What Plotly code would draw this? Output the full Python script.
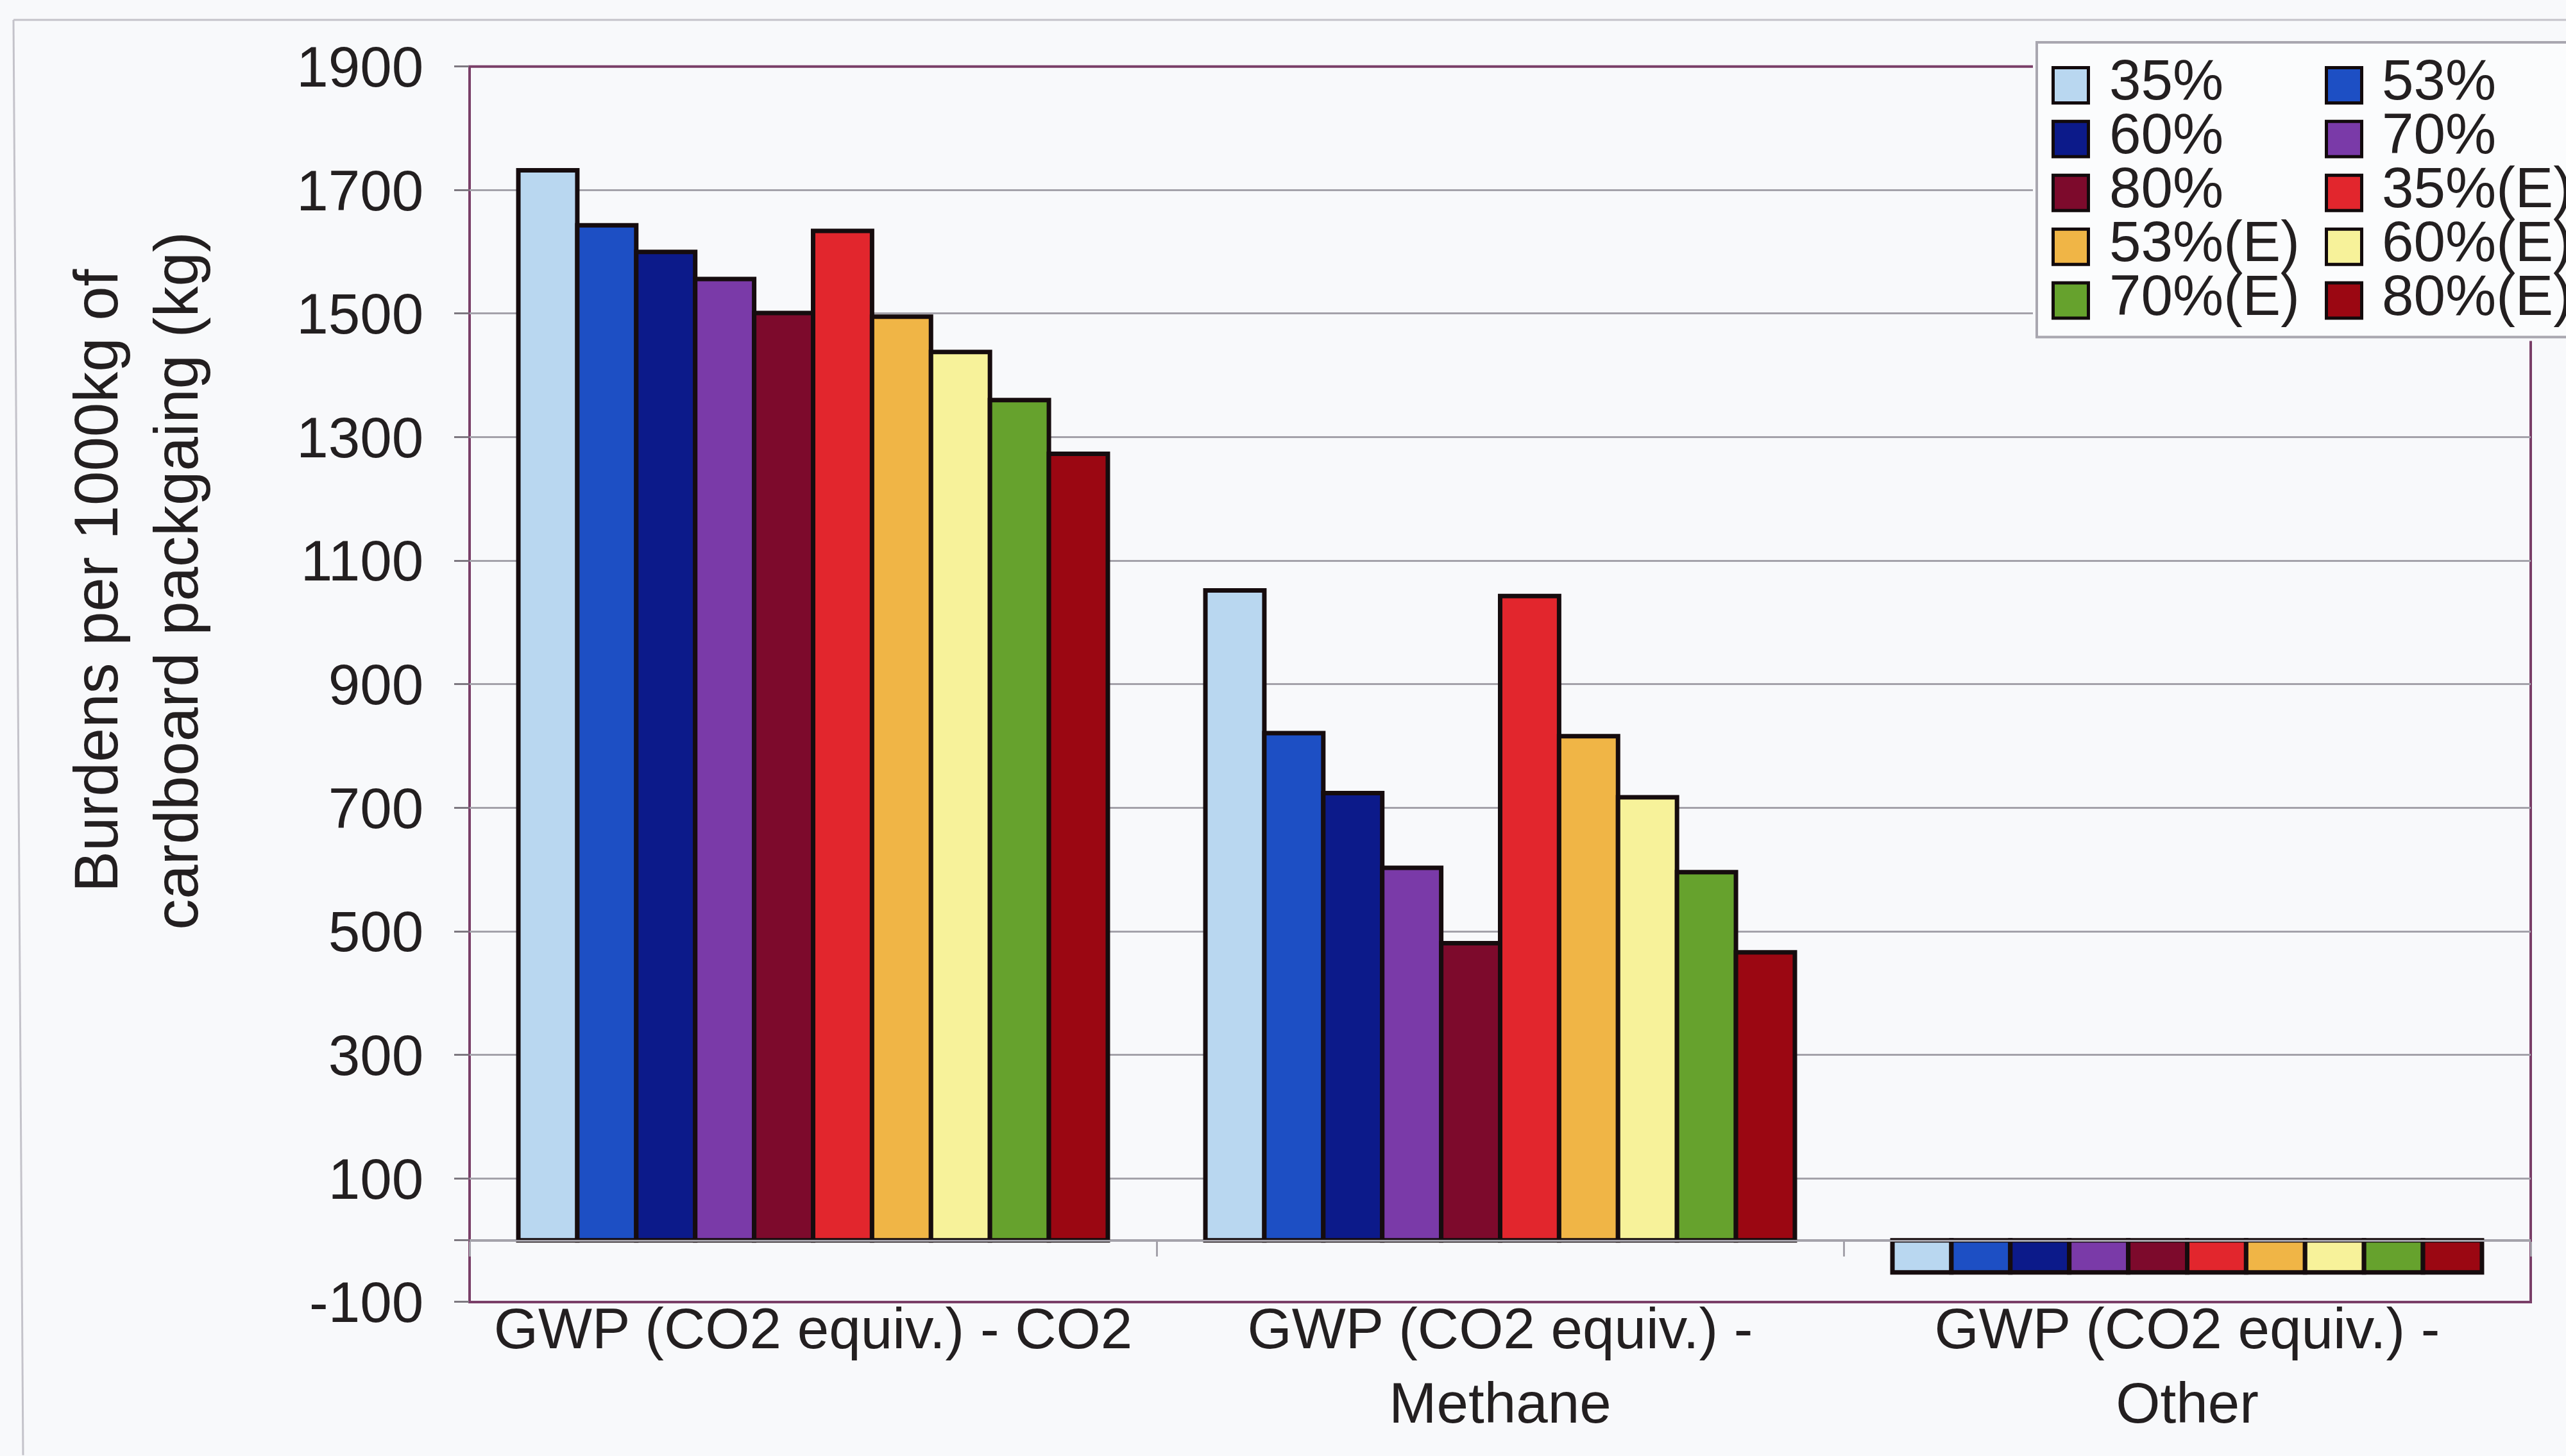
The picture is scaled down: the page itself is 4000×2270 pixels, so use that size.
import plotly.graph_objects as go

# ---- data -------------------------------------------------------------
categories = [
    "GWP (CO2 equiv.) - CO2",
    "GWP (CO2 equiv.) -<br>Methane",
    "GWP (CO2 equiv.) -<br>Other",
]
series_names = ["35%", "53%", "60%", "70%", "80%",
                "35%(E)", "53%(E)", "60%(E)", "70%(E)", "80%(E)"]
co2_values = [1732, 1643, 1600, 1556, 1501, 1634, 1495, 1438, 1360, 1273]
methane_values = [1052, 821, 724, 603, 481, 1043, 816, 717, 596, 466]
other_values = [-52, -52, -52, -52, -52, -52, -52, -52, -52, -52]
series_colors = ["#b9d7f0", "#1d4fc4", "#0c1a8a", "#7a3aa8", "#7d0a2c",
                 "#e2262d", "#f0b546", "#f7f29a", "#66a22d", "#9b0712"]
y_tickvals = [-100, 0, 100, 300, 500, 700, 900, 1100, 1300, 1500, 1700, 1900]
y_ticktext = ["-100", "", "100", "300", "500", "700", "900", "1100",
              "1300", "1500", "1700", "1900"]
y_title = "Burdens per 1000kg of<br>cardboard packgaing (kg)"

# ---- page geometry (pixels) ------------------------------------------
W, H = 4000, 2270
M_L, M_R, M_T, M_B = 732, 0, 40, 240
PLOT_RIGHT = 3945
PLOT_TOP = 94
PW = W - M_L - M_R
PH = H - M_T - M_B
BOTTOM = H - M_B

x_dom_end = (PLOT_RIGHT - M_L) / PW
y_dom_end = (BOTTOM - PLOT_TOP) / PH
y_min, y_max = -100, 1900
zero_pos = y_dom_end * (0 - y_min) / (y_max - y_min)

FONT = "Liberation Sans, Arial, sans-serif"
FS = 89
TEXT = "#231f20"
GRID = "#a4a2aa"
FRAME = "#7a3f68"
BG = "#f8f9fb"

fig = go.Figure()

# grouped bars, one trace per recycled-content series
for name, color, a, b, c in zip(series_names, series_colors,
                                co2_values, methane_values, other_values):
    fig.add_trace(go.Bar(
        x=categories, y=[a, b, c], name=name,
        marker=dict(color=color, line=dict(color="#160c0e", width=7)),
        showlegend=False,
    ))

# ---- legend drawn on its own small subplot ---------------------------
LEG_LEFT, LEG_TOP, LEG_BOTTOM = 3175, 56, 518
sq_x = [3228, 3654]
txt_x = [3288, 3713]
row_y0, row_step = 123.3, 84.35

mk_x, mk_y, tx_x = [], [], []
for i in range(len(series_names)):
    r, col = divmod(i, 2)
    mk_x.append(sq_x[col])
    tx_x.append(txt_x[col])
    mk_y.append(row_y0 + r * row_step)

fig.add_trace(go.Scatter(
    x=mk_x, y=mk_y, xaxis="x2", yaxis="y2", mode="markers",
    marker=dict(symbol="square", size=55, color=series_colors,
                line=dict(color="#120a0c", width=5)),
    showlegend=False, hoverinfo="skip", cliponaxis=False,
))
fig.add_trace(go.Scatter(
    x=tx_x, y=mk_y, xaxis="x2", yaxis="y2", mode="text",
    text=series_names, textposition="middle right",
    textfont=dict(family=FONT, size=FS, color=TEXT),
    showlegend=False, hoverinfo="skip", cliponaxis=False,
))

pad = 6
leg_x0 = LEG_LEFT - pad
leg_ytop = LEG_TOP - pad
leg_ybot = LEG_BOTTOM + pad

fig.update_layout(
    width=W, height=H,
    margin=dict(l=M_L, r=M_R, t=M_T, b=M_B, pad=0),
    paper_bgcolor=BG, plot_bgcolor=BG,
    barmode="group", bargap=0.142, bargroupgap=0,
    font=dict(family=FONT, size=FS, color=TEXT),
    xaxis=dict(
        type="category", domain=[0, x_dom_end],
        anchor="free", position=zero_pos,
        showline=True, linecolor=GRID, linewidth=3,
        ticks="outside", tickson="boundaries", ticklen=23,
        tickwidth=3, tickcolor=GRID,
        ticklabelstandoff=60,
        tickfont=dict(family=FONT, size=FS, color=TEXT),
        showgrid=False, zeroline=False,
    ),
    yaxis=dict(
        domain=[0, y_dom_end], range=[y_min, y_max],
        tickmode="array", tickvals=y_tickvals, ticktext=y_ticktext,
        ticks="outside", ticklen=23, tickwidth=3, tickcolor="#7d7880",
        ticklabelstandoff=30,
        tickfont=dict(family=FONT, size=FS, color=TEXT),
        showgrid=True, gridcolor=GRID, gridwidth=3,
        zeroline=False, showline=False,
    ),
    xaxis2=dict(
        domain=[(leg_x0 - M_L) / PW, 1], range=[leg_x0, W],
        anchor="y2", visible=False, fixedrange=True,
    ),
    yaxis2=dict(
        domain=[(BOTTOM - leg_ybot) / PH, (BOTTOM - leg_ytop) / PH],
        range=[leg_ybot, leg_ytop], anchor="x2", visible=False, fixedrange=True,
    ),
    annotations=[dict(
        text=y_title, textangle=-90,
        xref="paper", yref="paper",
        x=(212 - M_L) / PW, y=(BOTTOM - 900) / PH,
        xanchor="center", yanchor="middle", showarrow=False,
        font=dict(family=FONT, size=96, color=TEXT),
    )],
    shapes=[
        # plot-area frame
        dict(type="rect", xref="x domain", yref="y domain",
             x0=0, x1=1, y0=0, y1=1, layer="below",
             line=dict(color=FRAME, width=4)),
        # legend frame
        dict(type="rect", xref="x2", yref="y2", layer="below",
             x0=LEG_LEFT, x1=W + 100, y0=LEG_BOTTOM, y1=LEG_TOP,
             fillcolor="#fbfcfd", line=dict(color="#a9a7b0", width=4)),
        # outer chart border (top and left edges fall inside the page)
        dict(type="line", xref="paper", yref="paper",
             x0=(21 - M_L) / PW, x1=(W + 50 - M_L) / PW,
             y0=(BOTTOM - 21) / PH, y1=(BOTTOM - 21) / PH,
             line=dict(color="#c4c3ca", width=3)),
        dict(type="line", xref="paper", yref="paper",
             x0=(21 - M_L) / PW, x1=(36 - M_L) / PW,
             y0=(BOTTOM - 21) / PH, y1=(BOTTOM - H) / PH,
             line=dict(color="#c4c3ca", width=3)),
    ],
)

fig.write_html("out.html")
